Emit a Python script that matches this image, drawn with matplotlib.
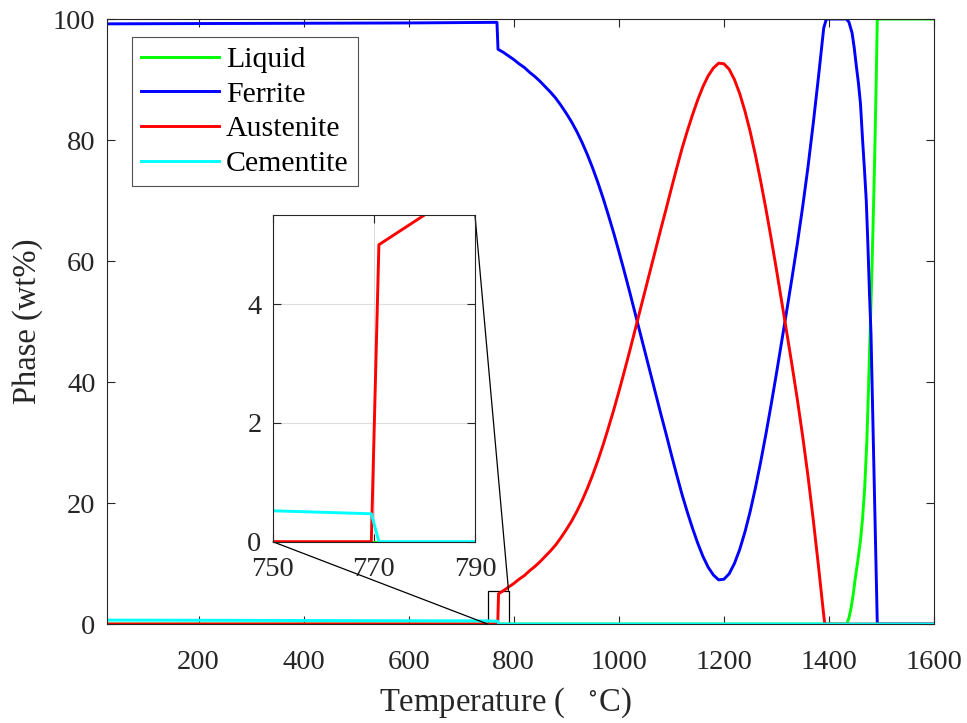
import matplotlib
matplotlib.use("Agg")
import matplotlib.pyplot as plt
from mpl_toolkits.axes_grid1.inset_locator import mark_inset

plt.rcParams['font.family'] = ['Liberation Serif', 'DejaVu Serif']
plt.rcParams['mathtext.fontset'] = 'stix'

# ---- data ----
liquid_T = [25, 1434, 1438, 1442, 1446, 1450, 1455, 1460, 1464, 1468, 1472, 1475, 1478,
            1481, 1484, 1487, 1490, 1492, 1600]
liquid_v = [0, 0, 1.0, 2.6, 4.8, 7.5, 10.5, 13.8, 17.5, 22.5, 30.0, 38.0, 47.0,
            56.0, 66.0, 77.0, 90.0, 100, 100]

ferrite_T = [25, 200, 400, 600, 768, 770, 780, 790, 800, 810, 820, 830, 840, 850, 860,
             870, 880, 890, 900, 910, 920, 930, 940, 950, 960, 970, 980, 990, 1000,
             1010, 1020, 1030, 1040, 1050, 1060, 1070, 1080, 1090, 1100, 1110, 1120,
             1130, 1140, 1150, 1160, 1170, 1180, 1190, 1200, 1210, 1220, 1230, 1240,
             1250, 1260, 1270, 1280, 1290, 1300, 1310, 1320, 1330, 1340, 1350, 1360,
             1370, 1380, 1390, 1395, 1433, 1438, 1444, 1448, 1452, 1456, 1460, 1464,
             1468, 1471, 1474, 1477, 1480, 1483, 1486, 1489, 1492, 1600]
ferrite_v = [99.2, 99.25, 99.3, 99.35, 99.45, 95.0, 94.5, 93.9, 93.3, 92.6, 92.0, 91.2,
             90.5, 89.7, 88.8, 87.9, 86.9, 85.7, 84.4, 83.0, 81.4, 79.6, 77.6, 75.4,
             73.0, 70.4, 67.6, 64.7, 61.6, 58.4, 55.1, 51.7, 48.3, 44.9, 41.5, 38.1,
             34.7, 31.4, 28.0, 24.7, 21.5, 18.6, 15.9, 13.4, 11.2, 9.4, 8.1, 7.3, 7.4,
             8.3, 10.0, 12.3, 15.2, 18.6, 22.5, 26.8, 31.4, 36.3, 41.4, 46.7, 52.0,
             57.4, 63.0, 69.0, 75.5, 82.7, 90.4, 98.5, 100, 100, 99.5, 97.7, 95.3,
             92.3, 89.5, 86.0, 80.0, 74.5, 70.0, 63.0, 55.0, 48.0, 36.0, 24.0, 12.0,
             0, 0]

austenite_T = [25, 769.5, 771, 780, 790, 800, 810, 820, 830, 840, 850, 860, 870, 880,
               890, 900, 910, 920, 930, 940, 950, 960, 970, 980, 990, 1000, 1010, 1020,
               1030, 1040, 1050, 1060, 1070, 1080, 1090, 1100, 1110, 1120, 1130, 1140,
               1150, 1160, 1170, 1180, 1190, 1200, 1210, 1220, 1230, 1240, 1250, 1260,
               1270, 1280, 1290, 1300, 1310, 1320, 1330, 1340, 1350, 1360, 1370, 1380,
               1390, 1392, 1600]
austenite_v = [0, 0, 5.0, 5.5, 6.1, 6.7, 7.4, 8.0, 8.8, 9.5, 10.3, 11.2, 12.1, 13.1,
               14.3, 15.6, 17.0, 18.6, 20.4, 22.4, 24.6, 27.0, 29.6, 32.4, 35.3, 38.4,
               41.6, 44.9, 48.3, 51.7, 55.1, 58.5, 61.9, 65.3, 68.6, 72.0, 75.3, 78.5,
               81.4, 84.1, 86.6, 88.8, 90.6, 91.9, 92.7, 92.6, 91.7, 90.0, 87.7, 84.8,
               81.4, 77.5, 73.2, 68.6, 63.7, 58.6, 53.3, 48.0, 42.6, 37.0, 31.0, 24.5,
               17.3, 9.6, 1.5, 0, 0]

cementite_T = [25, 750, 769.5, 771, 1600]
cementite_v = [0.65, 0.52, 0.47, 0, 0]

names = ['Liquid', 'Ferrite', 'Austenite', 'Cementite']
colors = ['#00ff00', '#0000ff', '#ff0000', '#00ffff']
series = [(liquid_T, liquid_v), (ferrite_T, ferrite_v),
          (austenite_T, austenite_v), (cementite_T, cementite_v)]

x_ticks = [200, 400, 600, 800, 1000, 1200, 1400, 1600]
y_ticks = [0, 20, 40, 60, 80, 100]
inset_x_ticks = [750, 770, 790]
inset_y_ticks = [0, 2, 4]

axc = (0.15, 0.15, 0.15)
fs = 20.5

fig = plt.figure(figsize=(9.67, 7.23), dpi=100)
ax = fig.add_axes([0.1103, 0.1369, 0.8556, 0.8368])
for (t, v), c, n in zip(series, colors, names):
    ax.plot(t, v, color=c, lw=2.1, label=n)
ax.set_xlim(25, 1600)
ax.set_ylim(0, 100)
ax.set_xticks(x_ticks)
ax.set_yticks(y_ticks)
ax.tick_params(direction='in', top=True, right=True, labelsize=fs, colors=axc,
               length=6, width=0.8, pad=8)
ax.tick_params(axis='x', pad=19)
for s in ax.spines.values():
    s.set_color(axc)
    s.set_linewidth(0.8)
ax.set_xlabel(r'Temperature ($\quad^{\circ}$C)', fontsize=23.5, color=axc, labelpad=7)
ax.xaxis.label.set_x(0.4815)
ax.set_ylabel('Phase (wt%)', fontsize=23.5, color=axc, labelpad=7)

leg = ax.legend(loc='upper left', bbox_to_anchor=(0.0306, 0.970), borderaxespad=0,
                fontsize=21.5, handlelength=2.6, frameon=True, fancybox=False,
                edgecolor=axc, labelspacing=0.26, handletextpad=0.25,
                borderpad=0.3)
leg.get_frame().set_linewidth(0.8)

axins = fig.add_axes([0.2820, 0.2508, 0.2092, 0.4518])
for (t, v), c in zip(series, colors):
    axins.plot(t, v, color=c, lw=2.1)
axins.set_xlim(750, 790)
axins.set_ylim(0, 5.5)
axins.set_xticks(inset_x_ticks)
axins.set_yticks(inset_y_ticks)
axins.grid(True, color='#dddddd', lw=0.8)
axins.set_axisbelow(True)
axins.tick_params(direction='in', top=True, right=True, labelsize=fs, colors=axc,
                  length=6, width=0.8, pad=11)
axins.tick_params(axis='y', pad=8)
for s in axins.spines.values():
    s.set_color(axc)
    s.set_linewidth(0.8)

mark_inset(ax, axins, loc1=3, loc2=1, fc='none', ec='black', lw=0.9)

fig.savefig('out.png', dpi=100)
